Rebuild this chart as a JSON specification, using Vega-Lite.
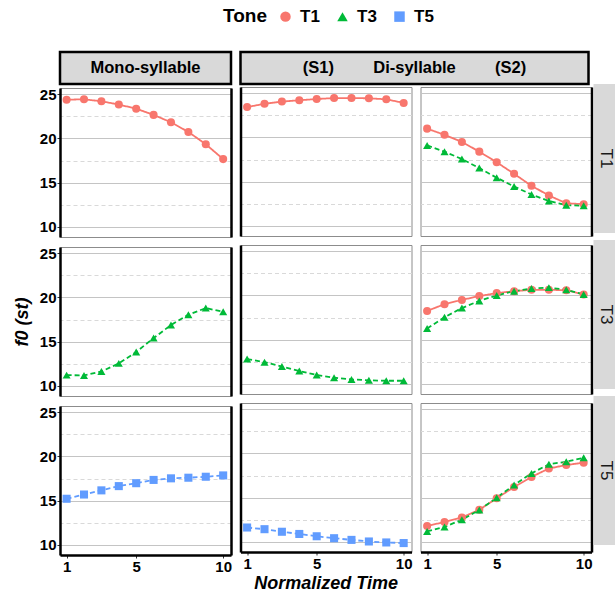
{
"$schema": "https://vega.github.io/schema/vega-lite/v6.json",
"padding": {"top": 8, "bottom": 0, "left": 12, "right": 0},
"config": {
 "font": "Liberation Sans",
 "view": {"stroke": "#8c8c8c", "strokeWidth": 1},
 "axis": {"labelColor": "black", "labelFontSize": 15, "labelFontWeight": "bold", "tickColor": "#333333", "tickSize": 3, "titleColor": "black", "labelPadding": 1},
 "legend": {"orient": "none", "legendX": 163, "legendY": -44, "direction": "horizontal", "titleOrient": "left", "titleFontSize": 19, "titleFontWeight": "bold", "titleColor": "black", "titlePadding": 10, "labelFontSize": 17, "labelFontWeight": "bold", "labelColor": "black", "symbolSize": 110, "symbolOpacity": 1, "columnPadding": 14, "labelOffset": 6}
},
"title": {"text": "Normalized Time", "orient": "bottom", "anchor": "middle", "fontSize": 18, "fontWeight": "bold", "fontStyle": "italic", "color": "black", "offset": 0, "dx": 11},
"data": {"values": [
{"p":"M","r":"T1","g":"T1","t":1,"f":24.38},{"p":"M","r":"T1","g":"T1","t":2,"f":24.42},{"p":"M","r":"T1","g":"T1","t":3,"f":24.2},{"p":"M","r":"T1","g":"T1","t":4,"f":23.83},{"p":"M","r":"T1","g":"T1","t":5,"f":23.36},{"p":"M","r":"T1","g":"T1","t":6,"f":22.66},{"p":"M","r":"T1","g":"T1","t":7,"f":21.82},{"p":"M","r":"T1","g":"T1","t":8,"f":20.73},{"p":"M","r":"T1","g":"T1","t":9,"f":19.34},{"p":"M","r":"T1","g":"T1","t":10,"f":17.66},
{"p":"M","r":"T3","g":"T3","t":1,"f":11.21},{"p":"M","r":"T3","g":"T3","t":2,"f":11.18},{"p":"M","r":"T3","g":"T3","t":3,"f":11.62},{"p":"M","r":"T3","g":"T3","t":4,"f":12.54},{"p":"M","r":"T3","g":"T3","t":5,"f":13.82},{"p":"M","r":"T3","g":"T3","t":6,"f":15.4},{"p":"M","r":"T3","g":"T3","t":7,"f":16.88},{"p":"M","r":"T3","g":"T3","t":8,"f":18.05},{"p":"M","r":"T3","g":"T3","t":9,"f":18.79},{"p":"M","r":"T3","g":"T3","t":10,"f":18.38},
{"p":"M","r":"T5","g":"T5","t":1,"f":15.21},{"p":"M","r":"T5","g":"T5","t":2,"f":15.69},{"p":"M","r":"T5","g":"T5","t":3,"f":16.16},{"p":"M","r":"T5","g":"T5","t":4,"f":16.64},{"p":"M","r":"T5","g":"T5","t":5,"f":16.97},{"p":"M","r":"T5","g":"T5","t":6,"f":17.34},{"p":"M","r":"T5","g":"T5","t":7,"f":17.52},{"p":"M","r":"T5","g":"T5","t":8,"f":17.59},{"p":"M","r":"T5","g":"T5","t":9,"f":17.7},{"p":"M","r":"T5","g":"T5","t":10,"f":17.85},
{"p":"S1","r":"T1","g":"T1","t":1,"f":23.43},{"p":"S1","r":"T1","g":"T1","t":2,"f":23.8},{"p":"S1","r":"T1","g":"T1","t":3,"f":24.05},{"p":"S1","r":"T1","g":"T1","t":4,"f":24.2},{"p":"S1","r":"T1","g":"T1","t":5,"f":24.34},{"p":"S1","r":"T1","g":"T1","t":6,"f":24.45},{"p":"S1","r":"T1","g":"T1","t":7,"f":24.45},{"p":"S1","r":"T1","g":"T1","t":8,"f":24.42},{"p":"S1","r":"T1","g":"T1","t":9,"f":24.31},{"p":"S1","r":"T1","g":"T1","t":10,"f":23.9},
{"p":"S1","r":"T3","g":"T3","t":1,"f":12.8},{"p":"S1","r":"T3","g":"T3","t":2,"f":12.45},{"p":"S1","r":"T3","g":"T3","t":3,"f":11.95},{"p":"S1","r":"T3","g":"T3","t":4,"f":11.45},{"p":"S1","r":"T3","g":"T3","t":5,"f":11.0},{"p":"S1","r":"T3","g":"T3","t":6,"f":10.7},{"p":"S1","r":"T3","g":"T3","t":7,"f":10.5},{"p":"S1","r":"T3","g":"T3","t":8,"f":10.4},{"p":"S1","r":"T3","g":"T3","t":9,"f":10.35},{"p":"S1","r":"T3","g":"T3","t":10,"f":10.35},
{"p":"S1","r":"T5","g":"T5","t":1,"f":11.62},{"p":"S1","r":"T5","g":"T5","t":2,"f":11.43},{"p":"S1","r":"T5","g":"T5","t":3,"f":11.14},{"p":"S1","r":"T5","g":"T5","t":4,"f":10.89},{"p":"S1","r":"T5","g":"T5","t":5,"f":10.63},{"p":"S1","r":"T5","g":"T5","t":6,"f":10.41},{"p":"S1","r":"T5","g":"T5","t":7,"f":10.22},{"p":"S1","r":"T5","g":"T5","t":8,"f":10.04},{"p":"S1","r":"T5","g":"T5","t":9,"f":9.93},{"p":"S1","r":"T5","g":"T5","t":10,"f":9.86},
{"p":"S2","r":"T1","g":"T1","t":1,"f":20.99},{"p":"S2","r":"T1","g":"T1","t":2,"f":20.29},{"p":"S2","r":"T1","g":"T1","t":3,"f":19.49},{"p":"S2","r":"T1","g":"T1","t":4,"f":18.39},{"p":"S2","r":"T1","g":"T1","t":5,"f":17.19},{"p":"S2","r":"T1","g":"T1","t":6,"f":15.88},{"p":"S2","r":"T1","g":"T1","t":7,"f":14.53},{"p":"S2","r":"T1","g":"T1","t":8,"f":13.43},{"p":"S2","r":"T1","g":"T1","t":9,"f":12.55},{"p":"S2","r":"T1","g":"T1","t":10,"f":12.45},
{"p":"S2","r":"T1","g":"T3","t":1,"f":19.09},{"p":"S2","r":"T1","g":"T3","t":2,"f":18.39},{"p":"S2","r":"T1","g":"T3","t":3,"f":17.55},{"p":"S2","r":"T1","g":"T3","t":4,"f":16.53},{"p":"S2","r":"T1","g":"T3","t":5,"f":15.44},{"p":"S2","r":"T1","g":"T3","t":6,"f":14.45},{"p":"S2","r":"T1","g":"T3","t":7,"f":13.54},{"p":"S2","r":"T1","g":"T3","t":8,"f":12.81},{"p":"S2","r":"T1","g":"T3","t":9,"f":12.34},{"p":"S2","r":"T1","g":"T3","t":10,"f":12.26},
{"p":"S2","r":"T3","g":"T1","t":1,"f":18.24},{"p":"S2","r":"T3","g":"T1","t":2,"f":19.01},{"p":"S2","r":"T3","g":"T1","t":3,"f":19.49},{"p":"S2","r":"T3","g":"T1","t":4,"f":19.93},{"p":"S2","r":"T3","g":"T1","t":5,"f":20.26},{"p":"S2","r":"T3","g":"T1","t":6,"f":20.48},{"p":"S2","r":"T3","g":"T1","t":7,"f":20.63},{"p":"S2","r":"T3","g":"T1","t":8,"f":20.63},{"p":"S2","r":"T3","g":"T1","t":9,"f":20.59},{"p":"S2","r":"T3","g":"T1","t":10,"f":20.11},
{"p":"S2","r":"T3","g":"T3","t":1,"f":16.25},{"p":"S2","r":"T3","g":"T3","t":2,"f":17.54},{"p":"S2","r":"T3","g":"T3","t":3,"f":18.57},{"p":"S2","r":"T3","g":"T3","t":4,"f":19.38},{"p":"S2","r":"T3","g":"T3","t":5,"f":20.0},{"p":"S2","r":"T3","g":"T3","t":6,"f":20.48},{"p":"S2","r":"T3","g":"T3","t":7,"f":20.77},{"p":"S2","r":"T3","g":"T3","t":8,"f":20.88},{"p":"S2","r":"T3","g":"T3","t":9,"f":20.63},{"p":"S2","r":"T3","g":"T3","t":10,"f":20.11},
{"p":"S2","r":"T5","g":"T1","t":1,"f":11.8},{"p":"S2","r":"T5","g":"T1","t":2,"f":12.24},{"p":"S2","r":"T5","g":"T1","t":3,"f":12.75},{"p":"S2","r":"T5","g":"T1","t":4,"f":13.63},{"p":"S2","r":"T5","g":"T1","t":5,"f":14.92},{"p":"S2","r":"T5","g":"T1","t":6,"f":16.2},{"p":"S2","r":"T5","g":"T1","t":7,"f":17.34},{"p":"S2","r":"T5","g":"T1","t":8,"f":18.29},{"p":"S2","r":"T5","g":"T1","t":9,"f":18.69},{"p":"S2","r":"T5","g":"T1","t":10,"f":18.95},
{"p":"S2","r":"T5","g":"T3","t":1,"f":11.18},{"p":"S2","r":"T5","g":"T3","t":2,"f":11.69},{"p":"S2","r":"T5","g":"T3","t":3,"f":12.5},{"p":"S2","r":"T5","g":"T3","t":4,"f":13.6},{"p":"S2","r":"T5","g":"T3","t":5,"f":14.99},{"p":"S2","r":"T5","g":"T3","t":6,"f":16.42},{"p":"S2","r":"T5","g":"T3","t":7,"f":17.74},{"p":"S2","r":"T5","g":"T3","t":8,"f":18.77},{"p":"S2","r":"T5","g":"T3","t":9,"f":19.06},{"p":"S2","r":"T5","g":"T3","t":10,"f":19.5}
]},
"spacing": 5.5,
"hconcat": [
 {"spacing": 0, "vconcat": [
  {"data": {"values": [{"lab": "Mono-syllable"}]}, "width": 171, "height": 32, "view": {"fill": "#d9d9d9", "stroke": "black", "strokeWidth": 2.5}, "mark": {"type": "text", "fontSize": 16.5, "fontWeight": "bold", "color": "black"}, "encoding": {"text": {"field": "lab"}}},
  {"spacing": 7, "vconcat": [
   {"width":171,"height":149,"transform":[{"filter":"datum.p=='M' && datum.r=='T1'"}],
    "encoding":{"x":{"field":"t","type":"quantitative","scale":{"domain":[0.62,10.45],"nice":false,"zero":false},"axis":null}},
    "layer":[
     {"mark":{"type":"line","strokeWidth":1.8},"encoding":{"y":{"field":"f","type":"quantitative","scale":{"domain":[8.85,25.7],"nice":false,"zero":false},"axis":{"orient":"left","values":[10,15,20,25],"grid":true,"gridColor":"#c4c4c4","gridWidth":1.1,"domainColor":"black","domainWidth":2.5,"title":null}},"stroke":{"field":"g","type":"nominal","scale":{"domain":["T5","T3","T1"],"range":["#619CFF","#00BA38","#F8766D"]},"legend":null},"strokeDash":{"field":"g","type":"nominal","scale":{"domain":["T5","T3","T1"],"range":[[5,3],[5,3],[1,0]]},"legend":null}}},
     {"mark":{"type":"point","filled":true,"opacity":1,"size":65},"encoding":{"y":{"field":"f","type":"quantitative","axis":{"orient":"right","values":[12.5,17.5,22.5],"grid":true,"gridColor":"#d9d9d9","gridDash":[4,3],"labels":false,"ticks":false,"domainColor":"black","domainWidth":2.5,"title":null}},"color":{"field":"g","type":"nominal","title":"Tone","scale":{"domain":["T1","T3","T5"],"range":["#F8766D","#00BA38","#619CFF"]}},"shape":{"field":"g","type":"nominal","title":"Tone","scale":{"domain":["T1","T3","T5"],"range":["circle","triangle-up","square"]}}}}
    ],"resolve":{"axis":{"y":"independent"}}},
   {"width":171,"height":149,"transform":[{"filter":"datum.p=='M' && datum.r=='T3'"}],
    "encoding":{"x":{"field":"t","type":"quantitative","scale":{"domain":[0.62,10.45],"nice":false,"zero":false},"axis":null}},
    "layer":[
     {"mark":{"type":"line","strokeWidth":1.8},"encoding":{"y":{"field":"f","type":"quantitative","scale":{"domain":[8.85,25.7],"nice":false,"zero":false},"axis":{"orient":"left","values":[10,15,20,25],"grid":true,"gridColor":"#c4c4c4","gridWidth":1.1,"domainColor":"black","domainWidth":2.5,"title":"f0 (st)","titleFontSize":18,"titleFontWeight":"bold","titleFontStyle":"italic","titlePadding":8}},"stroke":{"field":"g","type":"nominal","scale":{"domain":["T5","T3","T1"],"range":["#619CFF","#00BA38","#F8766D"]},"legend":null},"strokeDash":{"field":"g","type":"nominal","scale":{"domain":["T5","T3","T1"],"range":[[5,3],[5,3],[1,0]]},"legend":null}}},
     {"mark":{"type":"point","filled":true,"opacity":1,"size":65},"encoding":{"y":{"field":"f","type":"quantitative","axis":{"orient":"right","values":[12.5,17.5,22.5],"grid":true,"gridColor":"#d9d9d9","gridDash":[4,3],"labels":false,"ticks":false,"domainColor":"black","domainWidth":2.5,"title":null}},"color":{"field":"g","type":"nominal","title":"Tone","scale":{"domain":["T1","T3","T5"],"range":["#F8766D","#00BA38","#619CFF"]}},"shape":{"field":"g","type":"nominal","title":"Tone","scale":{"domain":["T1","T3","T5"],"range":["circle","triangle-up","square"]}}}}
    ],"resolve":{"axis":{"y":"independent"}}},
   {"width":171,"height":149,"transform":[{"filter":"datum.p=='M' && datum.r=='T5'"}],
    "encoding":{"x":{"field":"t","type":"quantitative","scale":{"domain":[0.62,10.45],"nice":false,"zero":false},"axis":{"values":[1,5,10],"grid":false,"domainColor":"black","domainWidth":2.5,"title":null}}},
    "layer":[
     {"mark":{"type":"line","strokeWidth":1.8},"encoding":{"y":{"field":"f","type":"quantitative","scale":{"domain":[8.85,25.7],"nice":false,"zero":false},"axis":{"orient":"left","values":[10,15,20,25],"grid":true,"gridColor":"#c4c4c4","gridWidth":1.1,"domainColor":"black","domainWidth":2.5,"title":null}},"stroke":{"field":"g","type":"nominal","scale":{"domain":["T5","T3","T1"],"range":["#619CFF","#00BA38","#F8766D"]},"legend":null},"strokeDash":{"field":"g","type":"nominal","scale":{"domain":["T5","T3","T1"],"range":[[5,3],[5,3],[1,0]]},"legend":null}}},
     {"mark":{"type":"point","filled":true,"opacity":1,"size":65},"encoding":{"y":{"field":"f","type":"quantitative","axis":{"orient":"right","values":[12.5,17.5,22.5],"grid":true,"gridColor":"#d9d9d9","gridDash":[4,3],"labels":false,"ticks":false,"domainColor":"black","domainWidth":2.5,"title":null}},"color":{"field":"g","type":"nominal","title":"Tone","scale":{"domain":["T1","T3","T5"],"range":["#F8766D","#00BA38","#619CFF"]}},"shape":{"field":"g","type":"nominal","title":"Tone","scale":{"domain":["T1","T3","T5"],"range":["circle","triangle-up","square"]}}}}
    ],"resolve":{"axis":{"y":"independent"}}}
  ]}
 ]},
 {"spacing": -2, "hconcat": [
  {"spacing": 0, "vconcat": [
   {"data": {"values": [{"lab": "(S1)"}, {"lab": "Di-syllable"}, {"lab": "(S2)"}]}, "width": 348, "height": 32, "view": {"fill": "#d9d9d9", "stroke": "black", "strokeWidth": 2.5}, "mark": {"type": "text", "fontSize": 16.5, "fontWeight": "bold", "color": "black"}, "encoding": {"x": {"field": "lab", "type": "nominal", "sort": null, "scale": {"type": "point", "padding": 0.81, "domain": ["(S1)", "Di-syllable", "(S2)"]}, "axis": null}, "text": {"field": "lab"}}},
   {"spacing": 6, "hconcat": [
    {"spacing": 7, "vconcat": [
     {"width":171,"height":149,"transform":[{"filter":"datum.p=='S1' && datum.r=='T1'"}],
      "encoding":{"x":{"field":"t","type":"quantitative","scale":{"domain":[0.62,10.45],"nice":false,"zero":false},"axis":null}},
      "layer":[
       {"mark":{"type":"line","strokeWidth":1.8},"encoding":{"y":{"field":"f","type":"quantitative","scale":{"domain":[8.85,25.7],"nice":false,"zero":false},"axis":{"orient":"left","values":[10,15,20,25],"grid":true,"gridColor":"#c4c4c4","gridWidth":1.1,"labels":false,"ticks":false,"domainColor":"black","domainWidth":2.5,"title":null}},"stroke":{"field":"g","type":"nominal","scale":{"domain":["T5","T3","T1"],"range":["#619CFF","#00BA38","#F8766D"]},"legend":null},"strokeDash":{"field":"g","type":"nominal","scale":{"domain":["T5","T3","T1"],"range":[[5,3],[5,3],[1,0]]},"legend":null}}},
       {"mark":{"type":"point","filled":true,"opacity":1,"size":65},"encoding":{"y":{"field":"f","type":"quantitative","axis":{"orient":"right","values":[12.5,17.5,22.5],"grid":true,"gridColor":"#d9d9d9","gridDash":[4,3],"labels":false,"ticks":false,"domain":false,"title":null}},"color":{"field":"g","type":"nominal","title":"Tone","scale":{"domain":["T1","T3","T5"],"range":["#F8766D","#00BA38","#619CFF"]}},"shape":{"field":"g","type":"nominal","title":"Tone","scale":{"domain":["T1","T3","T5"],"range":["circle","triangle-up","square"]}}}}
      ],"resolve":{"axis":{"y":"independent"}}},
     {"width":171,"height":149,"transform":[{"filter":"datum.p=='S1' && datum.r=='T3'"}],
      "encoding":{"x":{"field":"t","type":"quantitative","scale":{"domain":[0.62,10.45],"nice":false,"zero":false},"axis":null}},
      "layer":[
       {"mark":{"type":"line","strokeWidth":1.8},"encoding":{"y":{"field":"f","type":"quantitative","scale":{"domain":[8.85,25.7],"nice":false,"zero":false},"axis":{"orient":"left","values":[10,15,20,25],"grid":true,"gridColor":"#c4c4c4","gridWidth":1.1,"labels":false,"ticks":false,"domainColor":"black","domainWidth":2.5,"title":null}},"stroke":{"field":"g","type":"nominal","scale":{"domain":["T5","T3","T1"],"range":["#619CFF","#00BA38","#F8766D"]},"legend":null},"strokeDash":{"field":"g","type":"nominal","scale":{"domain":["T5","T3","T1"],"range":[[5,3],[5,3],[1,0]]},"legend":null}}},
       {"mark":{"type":"point","filled":true,"opacity":1,"size":65},"encoding":{"y":{"field":"f","type":"quantitative","axis":{"orient":"right","values":[12.5,17.5,22.5],"grid":true,"gridColor":"#d9d9d9","gridDash":[4,3],"labels":false,"ticks":false,"domain":false,"title":null}},"color":{"field":"g","type":"nominal","title":"Tone","scale":{"domain":["T1","T3","T5"],"range":["#F8766D","#00BA38","#619CFF"]}},"shape":{"field":"g","type":"nominal","title":"Tone","scale":{"domain":["T1","T3","T5"],"range":["circle","triangle-up","square"]}}}}
      ],"resolve":{"axis":{"y":"independent"}}},
     {"width":171,"height":149,"transform":[{"filter":"datum.p=='S1' && datum.r=='T5'"}],
      "encoding":{"x":{"field":"t","type":"quantitative","scale":{"domain":[0.62,10.45],"nice":false,"zero":false},"axis":{"values":[1,5,10],"grid":false,"domainColor":"black","domainWidth":2.5,"title":null}}},
      "layer":[
       {"mark":{"type":"line","strokeWidth":1.8},"encoding":{"y":{"field":"f","type":"quantitative","scale":{"domain":[8.85,25.7],"nice":false,"zero":false},"axis":{"orient":"left","values":[10,15,20,25],"grid":true,"gridColor":"#c4c4c4","gridWidth":1.1,"labels":false,"ticks":false,"domainColor":"black","domainWidth":2.5,"title":null}},"stroke":{"field":"g","type":"nominal","scale":{"domain":["T5","T3","T1"],"range":["#619CFF","#00BA38","#F8766D"]},"legend":null},"strokeDash":{"field":"g","type":"nominal","scale":{"domain":["T5","T3","T1"],"range":[[5,3],[5,3],[1,0]]},"legend":null}}},
       {"mark":{"type":"point","filled":true,"opacity":1,"size":65},"encoding":{"y":{"field":"f","type":"quantitative","axis":{"orient":"right","values":[12.5,17.5,22.5],"grid":true,"gridColor":"#d9d9d9","gridDash":[4,3],"labels":false,"ticks":false,"domain":false,"title":null}},"color":{"field":"g","type":"nominal","title":"Tone","scale":{"domain":["T1","T3","T5"],"range":["#F8766D","#00BA38","#619CFF"]}},"shape":{"field":"g","type":"nominal","title":"Tone","scale":{"domain":["T1","T3","T5"],"range":["circle","triangle-up","square"]}}}}
      ],"resolve":{"axis":{"y":"independent"}}}
    ]},
    {"spacing": 7, "vconcat": [
     {"width":171,"height":149,"transform":[{"filter":"datum.p=='S2' && datum.r=='T1'"}],
      "encoding":{"x":{"field":"t","type":"quantitative","scale":{"domain":[0.62,10.45],"nice":false,"zero":false},"axis":null}},
      "layer":[
       {"mark":{"type":"line","strokeWidth":1.8},"encoding":{"y":{"field":"f","type":"quantitative","scale":{"domain":[8.85,25.7],"nice":false,"zero":false},"axis":{"orient":"left","values":[10,15,20,25],"grid":true,"gridColor":"#c4c4c4","gridWidth":1.1,"labels":false,"ticks":false,"domain":false,"title":null}},"stroke":{"field":"g","type":"nominal","scale":{"domain":["T5","T3","T1"],"range":["#619CFF","#00BA38","#F8766D"]},"legend":null},"strokeDash":{"field":"g","type":"nominal","scale":{"domain":["T5","T3","T1"],"range":[[5,3],[5,3],[1,0]]},"legend":null}}},
       {"mark":{"type":"point","filled":true,"opacity":1,"size":65},"encoding":{"y":{"field":"f","type":"quantitative","axis":{"orient":"right","values":[12.5,17.5,22.5],"grid":true,"gridColor":"#d9d9d9","gridDash":[4,3],"labels":false,"ticks":false,"domainColor":"black","domainWidth":2.5,"title":null}},"color":{"field":"g","type":"nominal","title":"Tone","scale":{"domain":["T1","T3","T5"],"range":["#F8766D","#00BA38","#619CFF"]}},"shape":{"field":"g","type":"nominal","title":"Tone","scale":{"domain":["T1","T3","T5"],"range":["circle","triangle-up","square"]}}}}
      ],"resolve":{"axis":{"y":"independent"}}},
     {"width":171,"height":149,"transform":[{"filter":"datum.p=='S2' && datum.r=='T3'"}],
      "encoding":{"x":{"field":"t","type":"quantitative","scale":{"domain":[0.62,10.45],"nice":false,"zero":false},"axis":null}},
      "layer":[
       {"mark":{"type":"line","strokeWidth":1.8},"encoding":{"y":{"field":"f","type":"quantitative","scale":{"domain":[8.85,25.7],"nice":false,"zero":false},"axis":{"orient":"left","values":[10,15,20,25],"grid":true,"gridColor":"#c4c4c4","gridWidth":1.1,"labels":false,"ticks":false,"domain":false,"title":null}},"stroke":{"field":"g","type":"nominal","scale":{"domain":["T5","T3","T1"],"range":["#619CFF","#00BA38","#F8766D"]},"legend":null},"strokeDash":{"field":"g","type":"nominal","scale":{"domain":["T5","T3","T1"],"range":[[5,3],[5,3],[1,0]]},"legend":null}}},
       {"mark":{"type":"point","filled":true,"opacity":1,"size":65},"encoding":{"y":{"field":"f","type":"quantitative","axis":{"orient":"right","values":[12.5,17.5,22.5],"grid":true,"gridColor":"#d9d9d9","gridDash":[4,3],"labels":false,"ticks":false,"domainColor":"black","domainWidth":2.5,"title":null}},"color":{"field":"g","type":"nominal","title":"Tone","scale":{"domain":["T1","T3","T5"],"range":["#F8766D","#00BA38","#619CFF"]}},"shape":{"field":"g","type":"nominal","title":"Tone","scale":{"domain":["T1","T3","T5"],"range":["circle","triangle-up","square"]}}}}
      ],"resolve":{"axis":{"y":"independent"}}},
     {"width":171,"height":149,"transform":[{"filter":"datum.p=='S2' && datum.r=='T5'"}],
      "encoding":{"x":{"field":"t","type":"quantitative","scale":{"domain":[0.62,10.45],"nice":false,"zero":false},"axis":{"values":[1,5,10],"grid":false,"domainColor":"black","domainWidth":2.5,"title":null}}},
      "layer":[
       {"mark":{"type":"line","strokeWidth":1.8},"encoding":{"y":{"field":"f","type":"quantitative","scale":{"domain":[8.85,25.7],"nice":false,"zero":false},"axis":{"orient":"left","values":[10,15,20,25],"grid":true,"gridColor":"#c4c4c4","gridWidth":1.1,"labels":false,"ticks":false,"domain":false,"title":null}},"stroke":{"field":"g","type":"nominal","scale":{"domain":["T5","T3","T1"],"range":["#619CFF","#00BA38","#F8766D"]},"legend":null},"strokeDash":{"field":"g","type":"nominal","scale":{"domain":["T5","T3","T1"],"range":[[5,3],[5,3],[1,0]]},"legend":null}}},
       {"mark":{"type":"point","filled":true,"opacity":1,"size":65},"encoding":{"y":{"field":"f","type":"quantitative","axis":{"orient":"right","values":[12.5,17.5,22.5],"grid":true,"gridColor":"#d9d9d9","gridDash":[4,3],"labels":false,"ticks":false,"domainColor":"black","domainWidth":2.5,"title":null}},"color":{"field":"g","type":"nominal","title":"Tone","scale":{"domain":["T1","T3","T5"],"range":["#F8766D","#00BA38","#619CFF"]}},"shape":{"field":"g","type":"nominal","title":"Tone","scale":{"domain":["T1","T3","T5"],"range":["circle","triangle-up","square"]}}}}
      ],"resolve":{"axis":{"y":"independent"}}}
    ]}
   ]}
  ]},
  {"spacing": 0, "vconcat": [
   {"data": {"values": [{"lab": ""}]}, "width": 24, "height": 32, "view": {"stroke": null}, "mark": {"type": "text"}, "encoding": {"text": {"field": "lab"}}},
   {"spacing": 7, "vconcat": [
    {"data": {"values": [{"lab": "T1"}]}, "width": 24, "height": 149, "view": {"fill": "#d9d9d9", "stroke": null}, "mark": {"type": "text", "angle": 90, "fontSize": 17, "color": "#1a1a1a"}, "encoding": {"text": {"field": "lab"}}},
    {"data": {"values": [{"lab": "T3"}]}, "width": 24, "height": 149, "view": {"fill": "#d9d9d9", "stroke": null}, "mark": {"type": "text", "angle": 90, "fontSize": 17, "color": "#1a1a1a"}, "encoding": {"text": {"field": "lab"}}},
    {"data": {"values": [{"lab": "T5"}]}, "width": 24, "height": 149, "view": {"fill": "#d9d9d9", "stroke": null}, "mark": {"type": "text", "angle": 90, "fontSize": 17, "color": "#1a1a1a"}, "encoding": {"text": {"field": "lab"}}}
   ]}
  ]}
 ]}
]
}
